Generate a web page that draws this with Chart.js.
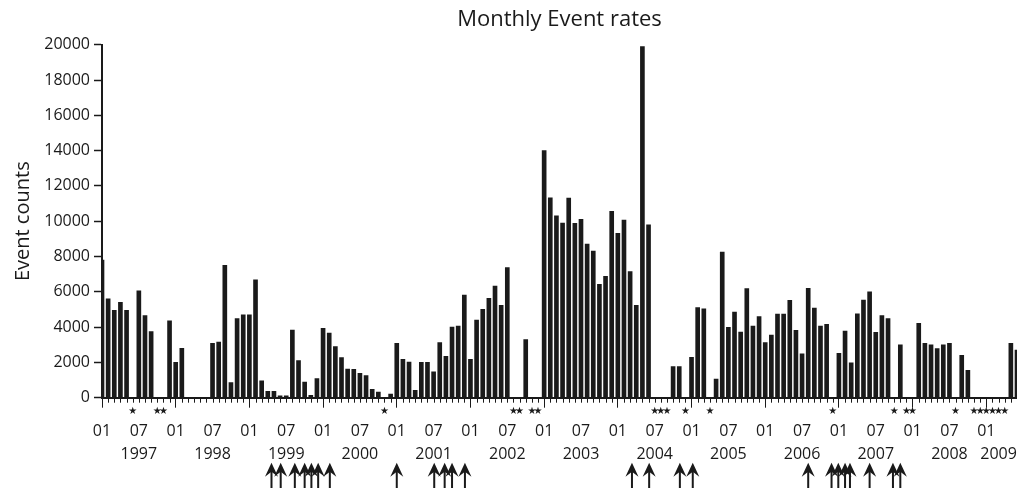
<!DOCTYPE html>
<html>
<head>
<meta charset="utf-8">
<title>Monthly Event rates</title>
<script src="https://cdn.jsdelivr.net/npm/chart.js@4/dist/chart.umd.min.js"></script>
<style>
html, body { margin: 0; padding: 0; background: #fff; }
</style>
</head>
<body>
<canvas id="chart" width="1017" height="488"></canvas>
<script>
const years = [1997, 1998, 1999, 2000, 2001, 2002, 2003, 2004, 2005, 2006, 2007, 2008, 2009];

// event counts per month, Jan 1997 .. Jun 2009
const counts = [
	7800, 5600, 4950, 5400, 4950, 0, 6050, 4650, 3750, 0, 0, 4350,          // 1997
	2000, 2800, 0, 0, 0, 0, 3080, 3150, 7500, 850, 4480, 4700,               // 1998
	4700, 6680, 960, 360, 360, 100, 110, 3830, 2100, 890, 130, 1080,         // 1999
	3930, 3660, 2890, 2270, 1620, 1610, 1380, 1250, 470, 320, 0, 210,        // 2000
	3080, 2170, 2020, 420, 2000, 2000, 1470, 3130, 2340, 4000, 4060, 5820,   // 2001
	2170, 4400, 5000, 5630, 6330, 5230, 7370, 0, 0, 3300, 0, 0,              // 2002
	14000, 11330, 10310, 9900, 11310, 9880, 10100, 8700, 8310, 6420, 6870, 10560, // 2003
	9310, 10070, 7140, 5230, 19900, 9800, 0, 0, 0, 1760, 1760, 0,            // 2004
	2290, 5100, 5040, 0, 1060, 8250, 3980, 4850, 3720, 6180, 4060, 4590,     // 2005
	3130, 3550, 4740, 4740, 5510, 3810, 2490, 6190, 5080, 4060, 4150, 0,     // 2006
	2510, 3780, 1980, 4750, 5530, 6000, 3700, 4650, 4480, 0, 3000, 0,        // 2007
	0, 4210, 3080, 3000, 2780, 3000, 3080, 0, 2400, 1550, 0, 0,              // 2008
	0, 0, 0, 0, 3080, 2700                                                   // 2009
];

// months marked with a star under the axis
const starMonths = [
	"1997-06", "1997-10", "1997-11", "2000-11", "2002-08", "2002-09", "2002-11", "2002-12",
	"2004-07", "2004-08", "2004-09", "2004-12", "2005-04", "2006-12", "2007-10", "2007-12",
	"2008-01", "2008-08", "2008-11", "2008-12", "2009-01", "2009-02", "2009-03", "2009-04"
];

// arrows below the year labels, months counted from Jan 1997 (fraction = part of month)
const arrowMonths = [
	27.6, 29.1, 31.4, 33.0, 34.1, 35.2, 37.1,
	48.0,
	54.1, 55.8, 57.0, 59.1,
	86.3, 89.1,
	94.1, 96.2,
	115.0,
	118.8, 119.9, 121.0, 121.8,
	125.0,
	128.8, 130.0
];

// tick text
const monthTickText = { "01": "01", "07": "07" };
const yearLabelMonths = [
	"1997-07", "1998-07", "1999-07", "2000-07", "2001-07", "2002-07", "2003-07",
	"2004-07", "2005-07", "2006-07", "2007-07", "2008-07", "2009-03"
];

const months = [];
years.forEach(y => {
	for (let m = 1; m <= 12; m++) {
		months.push(y + "-" + String(m).padStart(2, "0"));
	}
});
months.length = counts.length;

const tickLabels = months.map(m => {
	const top = monthTickText[m.slice(5)] || "";
	if (yearLabelMonths.includes(m)) return [top, m.slice(0, 4)];
	return top;
});

const ink = "#1a1a1a";
Chart.defaults.font.family = '"Open Sans", sans-serif';
Chart.defaults.color = ink;

// minor month ticks, stars and arrows under the x axis
const markers = {
	id: "markers",
	afterDraw(chart) {
		const { ctx, chartArea, scales: { x } } = chart;
		const base = chartArea.bottom;
		ctx.save();
		ctx.strokeStyle = ink;
		ctx.fillStyle = ink;
		ctx.lineWidth = 1;
		months.forEach((m, i) => {
			if (i % 12 === 0) return;
			const px = Math.round(x.getPixelForValue(i)) + 0.5;
			ctx.beginPath();
			ctx.moveTo(px, base);
			ctx.lineTo(px, base + 5);
			ctx.stroke();
		});

		ctx.font = '10px "DejaVu Sans"';
		ctx.textAlign = "center";
		ctx.textBaseline = "middle";
		starMonths.forEach(s => {
			ctx.fillText("\u2605", x.getPixelForValue(months.indexOf(s)), base + 14);
		});

		arrowMonths.forEach(m => {
			const px = x.getPixelForValue(m);
			const tip = base + 65;
			ctx.beginPath();
			ctx.moveTo(px, tip);
			ctx.lineTo(px + 6.5, tip + 14);
			ctx.lineTo(px, tip + 9);
			ctx.lineTo(px - 6.5, tip + 14);
			ctx.closePath();
			ctx.fill();
			ctx.fillRect(px - 1, tip + 6, 2, chart.height - tip);
		});
		ctx.restore();
	}
};

new Chart(document.getElementById("chart"), {
	type: "bar",
	data: {
		labels: months,
		datasets: [{
			label: "Event counts",
			data: counts,
			backgroundColor: ink,
			borderWidth: 0,
			barThickness: 4
		}]
	},
	options: {
		responsive: false,
		animation: false,
		layout: { padding: 0 },
		plugins: {
			legend: { display: false },
			tooltip: { enabled: false }
		},
		scales: {
			x: {
				type: "category",
				position: "bottom",
				offset: false,
				grid: {
					offset: false,
					drawOnChartArea: false,
					tickLength: 10,
					tickWidth: 1,
					tickColor: c => (c.index % 12 === 0 ? ink : "rgba(0,0,0,0)")
				},
				border: { color: ink, width: 2 },
				ticks: {
					autoSkip: false,
					maxRotation: 0,
					minRotation: 0,
					padding: 13,
					font: { size: 16, lineHeight: 1.4 },
					callback: (v, i) => tickLabels[i]
				},
				afterFit: s => {
					s.height = 90.3;
					s.paddingLeft = 0;
					s.paddingRight = 0;
				}
			},
			top: {
				type: "category",
				position: "top",
				offset: false,
				grid: { display: false },
				border: { display: false },
				ticks: { display: false },
				title: {
					display: true,
					text: "Monthly Event rates",
					font: { size: 22 },
					padding: { top: 7, bottom: 0 }
				},
				afterFit: s => { s.height = 44.7; }
			},
			y: {
				min: 0,
				max: 20000,
				grid: {
					drawOnChartArea: false,
					tickLength: 8,
					tickWidth: 1.5,
					tickColor: ink
				},
				border: { color: ink, width: 2 },
				ticks: {
					stepSize: 2000,
					padding: 4,
					font: { size: 16 },
					callback: v => String(v)
				},
				title: {
					display: true,
					text: "Event counts",
					font: { size: 20 },
					padding: { top: 11, bottom: 0 }
				},
				afterFit: s => { s.width = 102; }
			}
		}
	},
	plugins: [markers]
});
</script>
</body>
</html>
